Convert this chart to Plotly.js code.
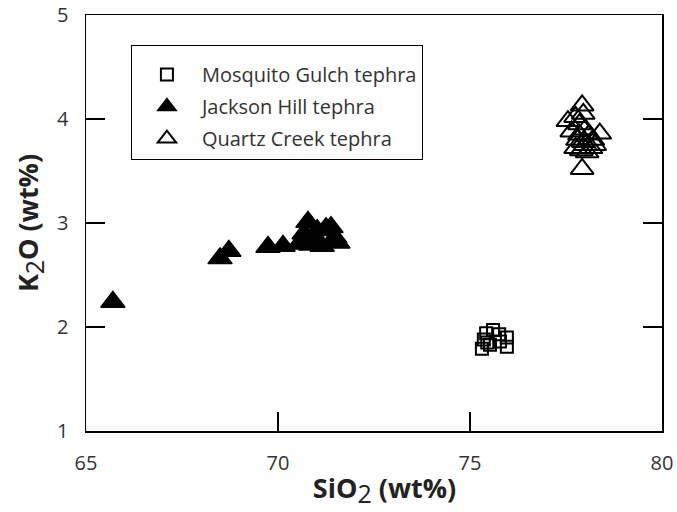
<!DOCTYPE html>
<html>
<head>
<meta charset="utf-8">
<script src="https://cdn.plot.ly/plotly-3.0.1.min.js"></script>
<style>html,body{margin:0;padding:0;background:#fff;}</style>
</head>
<body>
<div id="chart" style="width:677px;height:512px;"></div>
<script>
// Mosquito Gulch tephra
const mgSiO2 = [75.31, 75.36, 75.42, 75.60, 75.76, 75.78, 75.96, 75.96, 75.52, 75.45];
const mgK2O  = [1.79, 1.88, 1.94, 1.97, 1.93, 1.86, 1.90, 1.81, 1.83, 1.85];
// Jackson Hill tephra
const jhSiO2 = [65.70, 68.49, 68.72, 69.74, 70.13, 70.55, 70.68, 70.78, 70.88, 71.02, 71.05, 71.15, 71.25, 71.38, 71.48, 71.56, 70.85];
const jhK2O  = [2.24, 2.66, 2.73, 2.77, 2.78, 2.80, 2.90, 3.01, 2.85, 2.93, 2.80, 2.78, 2.95, 2.96, 2.86, 2.81, 2.79];
// Quartz Creek tephra
const qcSiO2 = [77.92, 77.95, 77.55, 77.75, 78.38, 77.92, 77.65, 77.85, 78.00, 78.10, 77.80, 78.00, 77.90, 78.15, 78.25, 77.75, 78.05, 77.85, 78.20, 77.95];
const qcK2O  = [4.13, 4.05, 3.98, 4.02, 3.86, 3.52, 3.88, 3.95, 3.90, 3.85, 3.80, 3.75, 3.70, 3.72, 3.75, 3.72, 3.68, 3.85, 3.80, 3.78];

const xTicks = [65, 70, 75, 80];
const yTicks = [1, 2, 3, 4, 5];

const traces = [
  {x: mgSiO2, y: mgK2O, name: 'Mosquito Gulch tephra', legendgroup: 'mg', type: 'scatter', mode: 'markers',
   marker: {symbol: 'square-open', size: 12, color: '#000', line: {width: 2, color: '#000'}}},
  {x: jhSiO2, y: jhK2O, name: 'Jackson Hill tephra', legendgroup: 'jh', type: 'scatter', mode: 'markers',
   marker: {symbol: 'triangle-up', size: 21, color: '#000', line: {width: 1.5, color: '#000'}}},
  {x: qcSiO2, y: qcK2O, name: 'Quartz Creek tephra', legendgroup: 'qc', type: 'scatter', mode: 'markers',
   marker: {symbol: 'triangle-up-open', size: 20, color: '#000', line: {width: 2, color: '#000'}}}
];

const font = 'Open Sans, Lato, sans-serif';
const sub2 = '<sub><span style="font-size:25px;font-weight:normal">2</span></sub>';
const layout = {
  width: 677, height: 512,
  margin: {l: 86, r: 15, t: 15, b: 81},
  paper_bgcolor: '#fff', plot_bgcolor: '#fff',
  showlegend: true,
  legend: {
    x: 0.078, y: 0.928, xanchor: 'left', yanchor: 'top',
    bordercolor: '#000', borderwidth: 1, bgcolor: '#fff',
    font: {family: font, size: 20, color: '#333'},
    itemwidth: 60, tracegroupgap: 3,
    title: {text: '&nbsp;', font: {family: font, size: 7}}
  },
  xaxis: {
    range: [65, 80], tickvals: xTicks, ticktext: xTicks.map(String),
    ticks: 'inside', ticklen: 19, tickwidth: 1.2, tickcolor: '#000',
    showline: true, linecolor: '#000', linewidth: 1.5, mirror: true,
    showgrid: false, zeroline: false,
    ticklabelstandoff: 13,
    tickfont: {family: font, size: 20, color: '#333'},
    title: {text: '&nbsp;&nbsp;&nbsp;SiO' + sub2 + ' (wt%)', standoff: 4, font: {family: font, size: 27, color: '#222', weight: 'bold'}}
  },
  yaxis: {
    range: [1, 5], tickvals: yTicks, ticktext: yTicks.map(String),
    ticks: 'inside', ticklen: 19, tickwidth: 1.2, tickcolor: '#000',
    showline: true, linecolor: '#000', linewidth: 1.5, mirror: 'ticks',
    showgrid: false, zeroline: false,
    ticklabelstandoff: 12,
    tickfont: {family: font, size: 20, color: '#333'},
    title: {text: 'K' + sub2 + 'O (wt%)', standoff: 10, font: {family: font, size: 27, color: '#222', weight: 'bold'}}
  }
};

Plotly.newPlot('chart', traces, layout, {displayModeBar: false, staticPlot: true});
</script>
</body>
</html>
